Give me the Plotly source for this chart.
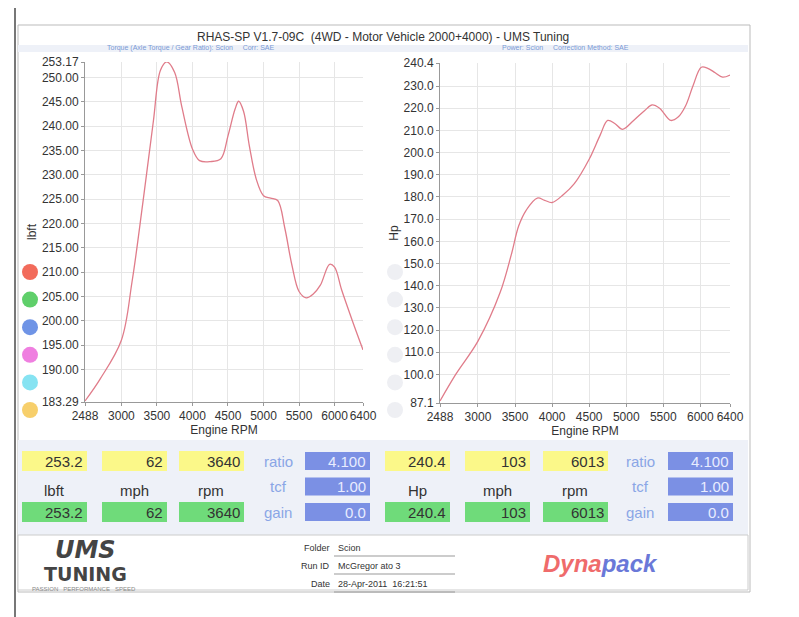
import plotly.graph_objects as go

W, H = 799, 617
OFF = 8  # page body margin

# torque curve (lbft vs rpm)
tq_rpm = [2488, 2700, 3000, 3150, 3300, 3450, 3550, 3640, 3750, 3850, 4000, 4100, 4250, 4400, 4500, 4600, 4650, 4720, 4800, 4900, 5000, 5100, 5200, 5300, 5400, 5500, 5600, 5700, 5800, 5930, 6000, 6100, 6250, 6400]
tq_val = [183.5, 188, 196, 208, 224, 241, 251.5, 253.2, 251, 244, 235.3, 232.9, 232.7, 233.3, 238, 243.5, 245.1, 243, 236, 229, 225.7, 225.2, 224.7, 219, 211.4, 206, 204.7, 205.5, 207.3, 211.6, 211, 206.3, 200, 194]
# power curve (Hp vs rpm)
hp_rpm = [2488, 2700, 3000, 3300, 3450, 3550, 3650, 3800, 3900, 4000, 4150, 4300, 4500, 4650, 4750, 4850, 4950, 5100, 5250, 5350, 5450, 5600, 5700, 5800, 5900, 6013, 6100, 6200, 6300, 6400]
hp_val = [88, 100, 115, 137, 154, 167, 174, 179.5, 178.5, 177.5, 181, 186, 197, 208, 214.5, 213, 210.5, 214.5, 219, 221.5, 220, 214.5, 216, 221, 230, 238.5, 238, 236, 234, 235]

x_ticks = [2488, 3000, 3500, 4000, 4500, 5000, 5500, 6000, 6400]
tq_ticks = [183.29, 190, 195, 200, 205, 210, 215, 220, 225, 230, 235, 240, 245, 250, 253.17]
hp_ticks = [87.1, 100, 110, 120, 130, 140, 150, 160, 170, 180, 190, 200, 210, 220, 230, 240.4]

top_vals = [("253.2", "62", "3640"), ("240.4", "103", "6013")]
units = [("lbft", "mph", "rpm"), ("Hp", "mph", "rpm")]
factors = [("ratio", "4.100"), ("tcf", "1.00"), ("gain", "0.0")]
dot_colors = ["#f26b5b", "#5fcf6a", "#6f94e6", "#ef7fe0", "#86e3f2", "#f7cf6b"]

def px(x): return (x - OFF) / W
def py(y): return 1 - (y - OFF) / H

fig = go.Figure()
line = dict(color="#e07c8a", width=1.3, shape="spline")
fig.add_trace(go.Scatter(x=tq_rpm, y=tq_val, mode="lines", line=line, xaxis="x", yaxis="y", showlegend=False))
fig.add_trace(go.Scatter(x=hp_rpm, y=hp_val, mode="lines", line=line, xaxis="x2", yaxis="y2", showlegend=False))

ax = dict(showline=True, linecolor="#999", gridcolor="#e6e6e6", ticks="outside", ticklen=3, tickangle=0,
          automargin=False, tickcolor="#999",
          tickfont=dict(size=12, color="#333", family="Liberation Sans, Arial"), zeroline=False)
fig.update_layout(
    width=W, height=H, margin=dict(l=0, r=0, t=0, b=0),
    paper_bgcolor="#ffffff", plot_bgcolor="#ffffff",
    font=dict(family="Liberation Sans, Arial", color="#333"),
    xaxis=dict(ax, domain=[px(85), px(363)], range=[2488, 6400], tickvals=x_ticks,
               title=dict(text="Engine RPM", font=dict(size=12), standoff=0), anchor="y"),
    yaxis=dict(ax, domain=[py(402), py(62)], range=[183.29, 253.17], tickvals=tq_ticks,
               ticktext=[f"{v:.2f}" for v in tq_ticks],
               title=dict(text="lbft", font=dict(size=12), standoff=2), anchor="x"),
    xaxis2=dict(ax, domain=[px(440), px(730)], range=[2488, 6400], tickvals=x_ticks,
                title=dict(text="Engine RPM", font=dict(size=12), standoff=0), anchor="y2"),
    yaxis2=dict(ax, domain=[py(403), py(63)], range=[87.1, 240.4], tickvals=hp_ticks,
                ticktext=[f"{v:.1f}" for v in hp_ticks],
                title=dict(text="Hp", font=dict(size=12), standoff=2), anchor="x2"),
)

shapes, ann = [], []
def rect(x0, y0, x1, y1, fill, line="rgba(0,0,0,0)", layer="below"):
    shapes.append(dict(type="rect", xref="paper", yref="paper", x0=px(x0), x1=px(x1), y0=py(y1), y1=py(y0),
                       fillcolor=fill, line=dict(color=line, width=1), layer=layer))
def text(x, y, s, size=11, color="#333", xanchor="center", family="Liberation Sans, Arial"):
    ann.append(dict(xref="paper", yref="paper", x=px(x), y=py(y), text=s, showarrow=False,
                    font=dict(size=size, color=color, family=family), xanchor=xanchor, yanchor="middle"))

# page frame
shapes.append(dict(type="line", xref="paper", yref="paper", x0=px(15), x1=px(15), y0=0, y1=1,
                   line=dict(color="#777", width=2)))
rect(18, 25, 750, 592, "rgba(0,0,0,0)", "#bbb")
rect(18, 45, 748, 52, "#eef1f8")
rect(18, 440, 748, 535, "#eef1f8")
rect(18, 535, 748, 590, "#ffffff", "#cccccc")
text(383, 37, "RHAS-SP V1.7-09C  (4WD - Motor Vehicle 2000+4000) - UMS Tuning", 12)
text(190, 48, "Torque (Axle Torque / Gear Ratio): Scion     Corr: SAE", 7, "#7a9ad6")
text(565, 48, "Power: Scion     Correction Method: SAE", 7, "#7a9ad6")

# colored dots
for i, c in enumerate(dot_colors):
    y = 272 + i * 27.6
    shapes.append(dict(type="circle", xref="paper", yref="paper", x0=px(22), x1=px(38), y0=py(y + 8), y1=py(y - 8),
                       fillcolor=c, line=dict(width=0)))
    shapes.append(dict(type="circle", xref="paper", yref="paper", x0=px(387), x1=px(403), y0=py(y + 8), y1=py(y - 8),
                       fillcolor="#eeeff3", line=dict(width=0)))

# data tables
for side, (x0s, fx, bx) in enumerate([((22, 102, 179), 278, 305), ((385, 465, 543), 640, 668)]):
    for j, x0 in enumerate(x0s):
        rect(x0, 451, x0 + 65, 471, "#fbf889")
        text(x0 + 63, 461, top_vals[side][j], 15, "#333", "right")
        text(x0 + 32, 490, units[side][j], 15)
        rect(x0, 502, x0 + 65, 522, "#6fdb7a")
        text(x0 + 63, 512, top_vals[side][j], 15, "#333", "right")
    for k, (lab, val) in enumerate(factors):
        y = 461 + k * 25.5
        text(fx, y, lab, 15, "#8aa6e6")
        rect(bx, y - 9, bx + 65, y + 9, "#7b90e4")
        text(bx + 63, y, val, 15, "#e8ecff", "right")

# footer
text(85, 550, "<b><i>UMS</i></b>", 24, "#444", "center", "DejaVu Sans")
text(85, 574, "<b>TUNING</b>", 19, "#444", "center", "DejaVu Sans")
text(30, 589, "PASSION   PERFORMANCE   SPEED", 6, "#888", "left")
for k, (lab, val) in enumerate([("Folder", "Scion"), ("Run ID", "McGregor ato 3"), ("Date", "28-Apr-2011  16:21:51")]):
    y = 548 + k * 18
    text(332, y, lab, 9, "#333", "right")
    text(336, y, val, 9, "#333", "left")
    shapes.append(dict(type="line", xref="paper", yref="paper", x0=px(334), x1=px(455), y0=py(y + 8), y1=py(y + 8),
                       line=dict(color="#999", width=1)))
text(600, 563, "<b><i><span style='color:#ef6b6b'>Dyna</span><span style='color:#6a78d8'>pack</span></i></b>", 24)

fig.update_layout(shapes=shapes, annotations=ann)
fig.write_html("out.html")
